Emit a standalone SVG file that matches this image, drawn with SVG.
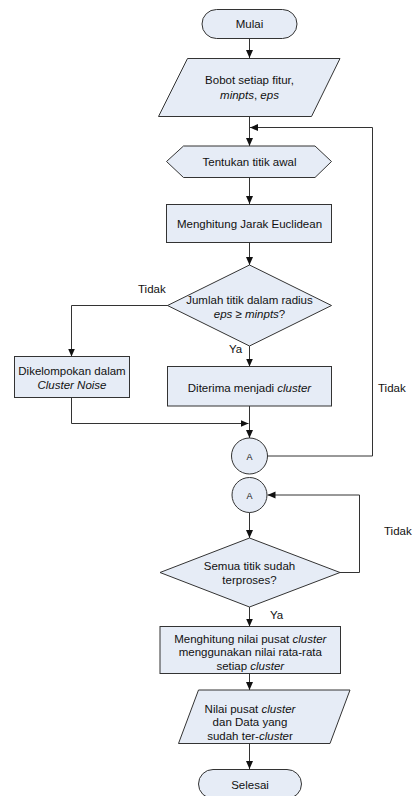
<svg xmlns="http://www.w3.org/2000/svg" width="414" height="796" viewBox="0 0 414 796">
<defs>
<style>
.s{fill:#e6ecf6;stroke:#333;stroke-width:1}
.c{fill:none;stroke:#333;stroke-width:1}
text{font-family:"Liberation Sans",Arial,sans-serif;font-size:11.5px;fill:#111}
.m{text-anchor:middle}
.i{font-style:italic}
.a{font-size:9px}
</style>
<marker id="ar" markerUnits="userSpaceOnUse" markerWidth="8" markerHeight="8" viewBox="0 0 8 8" refX="8" refY="4" orient="auto">
<path d="M0,0.5 L8,4 L0,7.5 Z" fill="#111"/>
</marker>
</defs>
<rect width="414" height="796" fill="#fff"/>
<g id="connectors">
<path class="c" d="M249.5,38.5 V58" marker-end="url(#ar)"/>
<path class="c" d="M249.5,117 V146" marker-end="url(#ar)"/>
<path class="c" d="M267.5,456 H372.5 V127.5 H250" marker-end="url(#ar)"/>
<path class="c" d="M249.5,177.5 V204" marker-end="url(#ar)"/>
<path class="c" d="M249.5,243 V265" marker-end="url(#ar)"/>
<path class="c" d="M168,305.5 H71.5 V356.5" marker-end="url(#ar)"/>
<path class="c" d="M249.5,346 V366.5" marker-end="url(#ar)"/>
<path class="c" d="M71.5,398 V423.5 H248.5" marker-end="url(#ar)"/>
<path class="c" d="M249.5,406 V438" marker-end="url(#ar)"/>
<path class="c" d="M249.5,512.5 V538" marker-end="url(#ar)"/>
<path class="c" d="M340,572.5 H359.5 V495 H267.5" marker-end="url(#ar)"/>
<path class="c" d="M249.5,607 V626.5" marker-end="url(#ar)"/>
<path class="c" d="M249.5,673.5 V690" marker-end="url(#ar)"/>
<path class="c" d="M249.5,743.5 V769" marker-end="url(#ar)"/>
</g>
<g id="labels">
<text x="138" y="293">Tidak</text>
<text x="229" y="353">Ya</text>
<text x="378" y="392">Tidak</text>
<text x="384" y="535">Tidak</text>
<text x="270" y="619">Ya</text>
</g>
<g id="mulai">
<rect class="s" x="202" y="9.5" width="95" height="29" rx="14.5"/>
<text class="m" x="249.5" y="28">Mulai</text>
</g>
<g id="input">
<path class="s" d="M187.5,58.5 H340 L311.5,116.5 H158.5 Z"/>
<text class="m" x="249.5" y="84">Bobot setiap fitur,</text>
<text class="m" x="249.5" y="99"><tspan class="i">minpts</tspan>, <tspan class="i">eps</tspan></text>
</g>
<g id="tentukan">
<path class="s" d="M166.5,161.5 L183.5,146 H315 L331.5,161.5 L315,177.5 H183.5 Z"/>
<text class="m" x="249.5" y="166">Tentukan titik awal</text>
</g>
<g id="jarak">
<rect class="s" x="166.5" y="204.5" width="165" height="38"/>
<text class="m" x="249.5" y="228">Menghitung Jarak Euclidean</text>
</g>
<g id="cek-radius">
<path class="s" d="M249.5,265 L331.5,305.5 L249.5,346 L167.5,305.5 Z"/>
<text class="m" x="249.5" y="303.5">Jumlah titik dalam radius</text>
<text class="m" x="249.5" y="317.5"><tspan class="i">eps</tspan> ≥ <tspan class="i">minpts</tspan>?</text>
</g>
<g id="noise">
<rect class="s" x="14.5" y="356.5" width="115" height="41"/>
<text class="m" x="72" y="375">Dikelompokan dalam</text>
<text class="m i" x="72" y="389">Cluster Noise</text>
</g>
<g id="diterima">
<rect class="s" x="167.5" y="366.5" width="164" height="39.5"/>
<text class="m" x="249.5" y="391.5">Diterima menjadi <tspan class="i">cluster</tspan></text>
</g>
<g id="konektor-a1">
<circle class="s" cx="249.5" cy="456" r="18"/>
<text class="m a" x="249.5" y="459.5">A</text>
</g>
<g id="konektor-a2">
<circle class="s" cx="249.5" cy="495" r="17.5"/>
<text class="m a" x="249.5" y="498.5">A</text>
</g>
<g id="cek-semua">
<path class="s" d="M249.5,538 L340,572.5 L249.5,607 L160,572.5 Z"/>
<text class="m" x="249.5" y="570">Semua titik sudah</text>
<text class="m" x="249.5" y="584">terproses?</text>
</g>
<g id="pusat">
<rect class="s" x="160" y="626.5" width="180.5" height="47"/>
<text class="m" x="250.3" y="642.5">Menghitung nilai pusat <tspan class="i">cluster</tspan></text>
<text class="m" x="250.3" y="656">menggunakan nilai rata-rata</text>
<text class="m" x="250.3" y="669.5">setiap <tspan class="i">cluster</tspan></text>
</g>
<g id="output">
<path class="s" d="M198.5,690 H350 L330,743.5 H178.5 Z"/>
<text class="m" x="250" y="712.5">Nilai pusat <tspan class="i">cluster</tspan></text>
<text class="m" x="250" y="726">dan Data yang</text>
<text class="m" x="250" y="739.5">sudah ter-<tspan class="i">cluste</tspan>r</text>
</g>
<g id="selesai">
<rect class="s" x="198.5" y="769.5" width="103" height="29" rx="14.5"/>
<text class="m" x="250" y="789">Selesai</text>
</g>
</svg>
